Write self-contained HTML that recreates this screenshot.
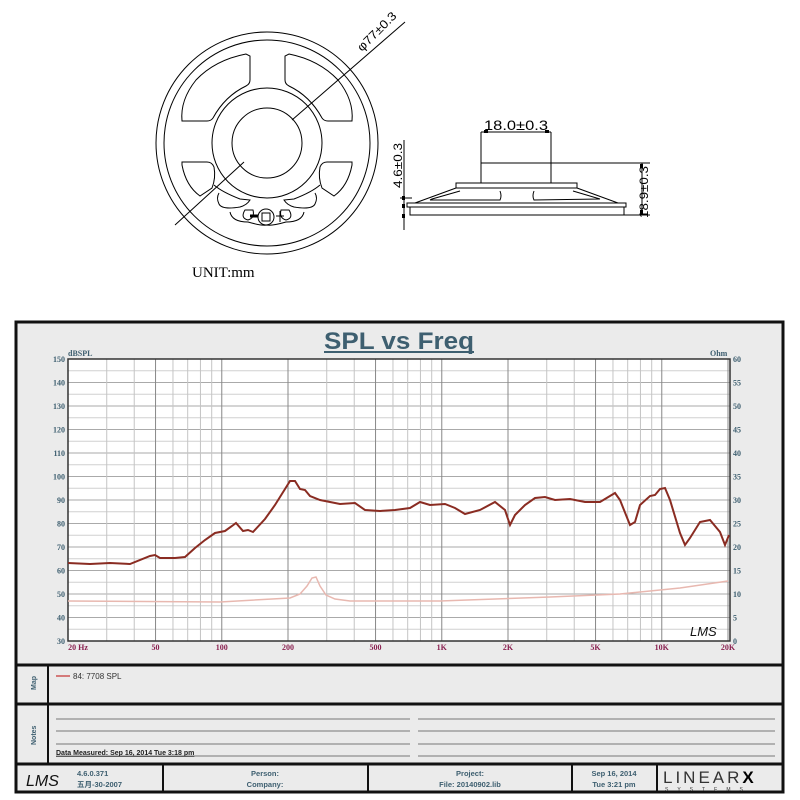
<!DOCTYPE html>
<html><head><meta charset="utf-8"><style>
body{margin:0;background:#fff;width:800px;height:800px;overflow:hidden;font-family:"Liberation Sans",sans-serif}
svg{position:absolute;left:0;top:0}
</style></head><body>
<svg id="s" width="800" height="800" viewBox="0 0 800 800" xmlns="http://www.w3.org/2000/svg">
<g fill="none" stroke="#000" stroke-width="1">
<circle cx="267" cy="143" r="111"/>
<circle cx="267" cy="143" r="103"/>
<circle cx="267" cy="143" r="55"/>
<circle cx="267" cy="143" r="35"/>
<path d="M250 56 L250 80 Q250 84 246 86 Q225 96 213 118 Q211 121 207 121 L182 121 Q180 100 196 80 Q215 60 246 54 Z"/>
<path d="M285 56 L285 80 Q285 84 289 86 Q310 96 322 118 Q324 121 328 121 L352 121 Q354 100 338 80 Q319 60 289 54 Z"/>
<path d="M182 162 L207 162 Q212 162 214 167 Q216 178 212 188 L200 196 Q186 186 182 165 Z"/>
<path d="M352 162 L327 162 Q322 162 320 167 Q318 178 322 188 L334 196 Q348 186 352 165 Z"/>
<path d="M214 185 Q222 192 240 199 L250 200 Q247 205 240 207 Q222 210 219 204 Q216 198 219 193"/>
<path d="M320 185 Q312 192 294 199 L284 200 Q287 205 294 207 Q312 210 315 204 Q318 198 315 193"/>
<path d="M230 212 Q232 222 248 222 Q262 226 267 225 Q272 226 286 222 Q302 222 304 212"/>
<path d="M245 210 Q240 218 248 220 Q255 218 253 210 Z"/>
<path d="M289 210 Q294 218 286 220 Q279 218 281 210 Z"/>
<circle cx="266" cy="217" r="8"/>
<rect x="262" y="213" width="8" height="8"/>
<line x1="250" y1="216" x2="258" y2="216" stroke-width="3"/>
<line x1="276" y1="216" x2="284" y2="216"/>
<line x1="280" y1="211" x2="280" y2="222"/>
<line x1="175" y1="225" x2="244" y2="162"/>
<line x1="292" y1="120" x2="405" y2="22"/>
<line x1="481" y1="132" x2="551" y2="132"/>
<line x1="481" y1="132" x2="481" y2="183"/>
<line x1="551" y1="132" x2="551" y2="183"/>
<line x1="481" y1="163" x2="650" y2="163"/>
<rect x="456" y="183" width="121" height="5"/>
<path d="M456 188 L415 203 M577 188 L618 203"/>
<path d="M460 191 L432 199 L430 200 L500 200 Q502 196 500 191 M573 191 L600 199 L534 200 Q532 196 534 191"/>
<rect x="407" y="203" width="219" height="4"/>
<rect x="410" y="207" width="214" height="8"/>
<line x1="404" y1="140" x2="404" y2="230"/>
<line x1="400" y1="198" x2="412" y2="198"/>
<line x1="642" y1="163" x2="642" y2="215"/>
<line x1="620" y1="215" x2="650" y2="215"/>
</g>
<g fill="#000">
<rect x="484" y="130" width="4" height="3"/><rect x="545" y="130" width="4" height="3"/>
<rect x="402" y="196" width="3" height="4"/><rect x="402" y="204" width="3" height="4"/><rect x="402" y="214" width="3" height="4"/>
<rect x="640" y="164" width="3" height="4"/><rect x="640" y="210" width="3" height="4"/>
</g>
<g font-family="Liberation Sans,sans-serif" font-size="14" fill="#000" font-weight="normal">
<text x="484" y="130" textLength="64" lengthAdjust="spacingAndGlyphs">18.0±0.3</text>
<text x="192" y="277" font-family="Liberation Serif,serif" font-size="15">UNIT:mm</text>
<text transform="translate(402,188) rotate(-90)" font-size="12" textLength="45" lengthAdjust="spacingAndGlyphs">4.6±0.3</text>
<text transform="translate(648,218) rotate(-90)" font-size="12" textLength="52" lengthAdjust="spacingAndGlyphs">18.9±0.3</text>
<text transform="translate(362,52) rotate(-45)" font-size="12" textLength="50" lengthAdjust="spacingAndGlyphs">φ77±0.3</text>
</g>
<rect x="16" y="322" width="767" height="470" fill="#ebebeb" stroke="#111" stroke-width="3"/>
<line x1="16" y1="665" x2="783" y2="665" stroke="#111" stroke-width="3"/>
<line x1="16" y1="704" x2="783" y2="704" stroke="#111" stroke-width="3"/>
<line x1="16" y1="764" x2="783" y2="764" stroke="#111" stroke-width="3"/>
<line x1="48" y1="665" x2="48" y2="764" stroke="#111" stroke-width="2"/>
<text x="399" y="349" text-anchor="middle" font-size="24" font-weight="bold" fill="#3e5f70" textLength="150" lengthAdjust="spacingAndGlyphs">SPL vs Freq</text>
<rect x="324" y="351" width="150" height="2" fill="#3e5f70"/>
<rect x="68" y="359" width="662" height="282" fill="#fff"/>
<g id="grid"></g>
<rect x="68" y="359" width="662" height="282" fill="none" stroke="#333" stroke-width="1.5"/>
<g id="lab" font-size="8" font-weight="bold" font-family="Liberation Serif,serif"></g>
<text x="68" y="356" font-size="8" font-weight="bold" fill="#3e5f70" font-family="Liberation Serif,serif">dBSPL</text>
<text x="710" y="356" font-size="8" font-weight="bold" fill="#3e5f70" font-family="Liberation Serif,serif">Ohm</text>
<polyline fill="none" stroke="#e8b8b0" stroke-width="1.5" points="68,601 220,602 290,598 300,594 307,586 312,578 316,577 320,586 326,595 335,599 350,601 440,601 550,597 620,594 680,588 728,581"/>
<polyline fill="none" stroke="#8a2c22" stroke-width="2" points="68,563 90,564 110,563 130,564 150,556 155,555 160,558 175,558 185,557 195,548 205,540 215,533 225,531 232,526 236,523 243,531 248,530 253,532 265,519 275,505 285,489 290,481 295,481 300,489 305,490 310,496 320,500 340,504 355,503 365,510 380,511 395,510 410,508 420,502 430,505 445,504 455,508 465,514 480,510 495,502 505,510 510,525 515,515 525,505 535,498 545,497 555,500 570,499 585,502 600,502 615,493 620,500 630,525 635,522 640,505 650,496 655,495 660,489 665,488 670,500 680,533 685,545 690,538 700,522 710,520 720,532 725,545 729,535"/>
<text x="690" y="636" font-size="13" font-style="italic" fill="#111">LMS</text>
<text transform="translate(36,690) rotate(-90)" font-size="7" font-weight="bold" fill="#3e5f70">Map</text>
<line x1="56" y1="676" x2="70" y2="676" stroke="#c55" stroke-width="1.5"/>
<text x="73" y="679" font-size="8" fill="#333">84: 7708  SPL</text>
<text transform="translate(36,745) rotate(-90)" font-size="7" font-weight="bold" fill="#3e5f70">Notes</text>
<g stroke="#777" stroke-width="1">
<line x1="56" y1="719" x2="410" y2="719"/><line x1="418" y1="719" x2="775" y2="719"/>
<line x1="56" y1="731" x2="410" y2="731"/><line x1="418" y1="731" x2="775" y2="731"/>
<line x1="56" y1="744" x2="410" y2="744"/><line x1="418" y1="744" x2="775" y2="744"/>
<line x1="56" y1="756" x2="410" y2="756"/><line x1="418" y1="756" x2="775" y2="756"/>
</g>
<text x="56" y="755" font-size="7" font-weight="bold" fill="#222" text-decoration="underline">Data Measured: Sep 16, 2014  Tue  3:18 pm</text>
<g stroke="#111" stroke-width="2"><line x1="163" y1="764" x2="163" y2="792"/><line x1="368" y1="764" x2="368" y2="792"/><line x1="572" y1="764" x2="572" y2="792"/><line x1="657" y1="764" x2="657" y2="792"/></g>
<text x="26" y="786" font-size="16" font-style="italic" fill="#111">LMS</text>
<g font-size="7.5" font-weight="bold" fill="#3e5f70">
<text x="77" y="776">4.6.0.371</text><text x="77" y="787" font-family="Liberation Sans,Noto Sans CJK SC,sans-serif">五月-30-2007</text>
<text x="265" y="776" text-anchor="middle">Person:</text><text x="265" y="787" text-anchor="middle">Company:</text>
<text x="470" y="776" text-anchor="middle">Project:</text><text x="470" y="787" text-anchor="middle">File: 20140902.lib</text>
<text x="614" y="776" text-anchor="middle">Sep 16, 2014</text><text x="614" y="787" text-anchor="middle">Tue  3:21 pm</text>
</g>
<text x="663" y="783" font-size="17" fill="#333" letter-spacing="3">LINEAR<tspan font-weight="bold" fill="#000">X</tspan></text>
<text x="665" y="791" font-size="5" fill="#333" letter-spacing="9">SYSTEMS</text>
</svg>
<script>
var g=document.getElementById('grid'),l=document.getElementById('lab'),ns="http://www.w3.org/2000/svg";
function ln(x1,y1,x2,y2,c,w){var e=document.createElementNS(ns,'line');e.setAttribute('x1',x1);e.setAttribute('y1',y1);e.setAttribute('x2',x2);e.setAttribute('y2',y2);e.setAttribute('stroke',c);e.setAttribute('stroke-width',w);g.appendChild(e);}
function tx(x,y,t,c,a){var e=document.createElementNS(ns,'text');e.setAttribute('x',x);e.setAttribute('y',y);e.setAttribute('fill',c);e.setAttribute('text-anchor',a);e.textContent=t;l.appendChild(e);}
function fx(f){return 68+220*Math.log10(f/20);}
for(var v=30;v<=150;v+=5){var y=641-(v-30)*282/120;ln(68,y,730,y,v%10==0?'#aaa':'#d0d0d0',1);if(v%10==0)tx(65,y+3,v,'#3e5f70','end');}
for(var d=10;d<=10000;d*=10)for(var k=1;k<10;k++){var f=d*k;if(f<20||f>20000)continue;var x=fx(f);ln(x,359,x,641,(k==1||k==2||k==5)?'#888':'#c4c4c4',1);}
for(var o=0;o<=60;o+=5){var y=641-o*282/60;tx(733,y+3,o,'#3e5f70','start');}
[[20,'20  Hz'],[50,'50'],[100,'100'],[200,'200'],[500,'500'],[1000,'1K'],[2000,'2K'],[5000,'5K'],[10000,'10K'],[20000,'20K']].forEach(function(p){var x=fx(p[0]);tx(p[0]==20?x+10:x,650,p[1],'#8a2050','middle');});
</script>
</body></html>
